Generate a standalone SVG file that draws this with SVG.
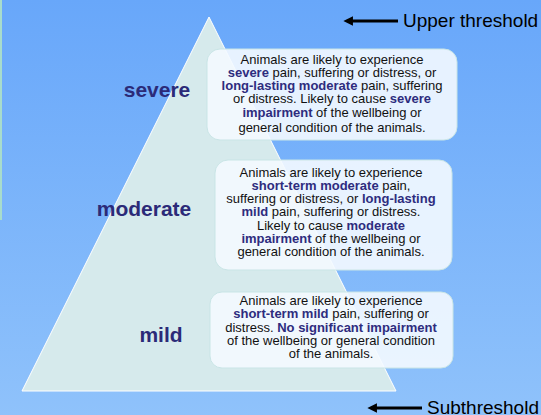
<svg xmlns="http://www.w3.org/2000/svg" width="541" height="415" viewBox="0 0 541 415">
<defs>
<linearGradient id="bg" x1="0" y1="0" x2="0" y2="1">
<stop offset="0" stop-color="#68a7fa"/>
<stop offset="1" stop-color="#8fc2fb"/>
</linearGradient>
<marker id="ah" viewBox="0 0 10 10" refX="1" refY="5" markerWidth="3.2" markerHeight="3.2" orient="auto-start-reverse">
<path d="M0,0 L10,5 L0,10 z" fill="#000"/>
</marker>
<style>
.box{fill:#f4f9ff;fill-opacity:0.9;stroke:#c9e5e6;stroke-width:1}
.t{font-family:"Liberation Sans",Arial,sans-serif;font-size:13px;fill:#111;text-anchor:middle}
.b{font-weight:bold;fill:#2e2c7e}
.lvl{font-family:"Liberation Sans",Arial,sans-serif;font-size:21px;font-weight:bold;fill:#2b2a78;text-anchor:middle}
.th{font-family:"Liberation Sans",Arial,sans-serif;font-size:19px;fill:#000}
.arr{stroke:#000;stroke-width:3;fill:none;marker-end:url(#ah)}
</style>
</defs>
<rect x="0" y="0" width="541" height="415" fill="url(#bg)"/>
<rect x="0" y="0" width="2" height="220" fill="#a8dccc"/>
<g id="pyramid">
<polygon points="209,17 22,391 396,391" fill="#d6eaec" stroke="#ffffff" stroke-width="1"/>
</g>
<g id="connectors">
<line class="arr" x1="398" y1="21" x2="352" y2="21"/>
<line class="arr" x1="422" y1="408" x2="376" y2="408"/>
</g>
<g id="upper-threshold">
<text class="th" x="403" y="27">Upper threshold</text>
</g>
<g id="subthreshold">
<text class="th" x="427" y="414">Subthreshold</text>
</g>
<g id="severe">
<text class="lvl" x="157" y="97">severe</text>
<rect class="box" x="207" y="49" width="250" height="91" rx="13"/>
<text class="t" x="332" y="64">Animals are likely to experience</text>
<text class="t" x="332" y="77"><tspan class="b">severe</tspan> pain, suffering or distress, or</text>
<text class="t" x="332" y="90"><tspan class="b">long-lasting moderate</tspan> pain, suffering</text>
<text class="t" x="332" y="103">or distress. Likely to cause <tspan class="b">severe</tspan></text>
<text class="t" x="332" y="117"><tspan class="b">impairment</tspan> of the wellbeing or</text>
<text class="t" x="332" y="132">general condition of the animals.</text>
</g>
<g id="moderate">
<text class="lvl" x="144" y="216">moderate</text>
<rect class="box" x="215" y="160" width="237" height="110" rx="13"/>
<text class="t" x="331" y="177">Animals are likely to experience</text>
<text class="t" x="331" y="190"><tspan class="b">short-term moderate</tspan> pain,</text>
<text class="t" x="331" y="203">suffering or distress, or <tspan class="b">long-lasting</tspan></text>
<text class="t" x="331" y="216"><tspan class="b">mild</tspan> pain, suffering or distress.</text>
<text class="t" x="331" y="230">Likely to cause <tspan class="b">moderate</tspan></text>
<text class="t" x="331" y="243"><tspan class="b">impairment</tspan> of the wellbeing or</text>
<text class="t" x="331" y="256">general condition of the animals.</text>
</g>
<g id="mild">
<text class="lvl" x="161" y="342">mild</text>
<rect class="box" x="210" y="292" width="243" height="76" rx="12"/>
<text class="t" x="331" y="305">Animals are likely to experience</text>
<text class="t" x="331" y="318"><tspan class="b">short-term mild</tspan> pain, suffering or</text>
<text class="t" x="331" y="332">distress. <tspan class="b">No significant impairment</tspan></text>
<text class="t" x="331" y="345">of the wellbeing or general condition</text>
<text class="t" x="331" y="358">of the animals.</text>
</g>
</svg>
